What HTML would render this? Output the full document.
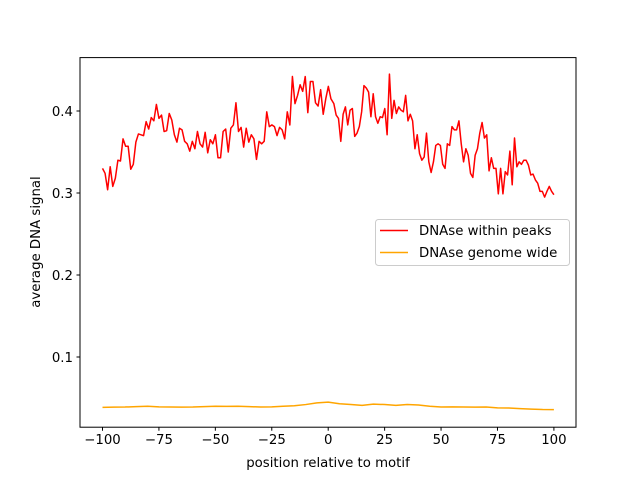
<!DOCTYPE html>
<html><head><meta charset="utf-8"><style>
body{margin:0;background:#fff;}
svg text{font-family:"DejaVu Sans","Liberation Sans",sans-serif;font-size:13.3px;fill:#000;}
</style></head><body>
<svg id="chart" width="640" height="480" xmlns="http://www.w3.org/2000/svg">
<rect x="0" y="0" width="640" height="480" fill="#fff"/>
<g id="marks"></g>
<rect x="80" y="57.6" width="496" height="369.6" fill="none" stroke="#000" stroke-width="1"/>
<g id="ticks"></g>
<text x="328" y="467" text-anchor="middle">position relative to motif</text>
<text transform="translate(40,242) rotate(-90)" text-anchor="middle">average DNA signal</text>
<g>
<rect x="375.5" y="219.5" width="194" height="46" rx="3" fill="#fff" fill-opacity="0.8" stroke="#ccc"/>
<line x1="380" y1="230.5" x2="408" y2="230.5" stroke="#ff0000" stroke-width="1.5"/>
<text x="419" y="235">DNAse within peaks</text>
<line x1="380" y1="252.5" x2="408" y2="252.5" stroke="#ffa500" stroke-width="1.5"/>
<text x="419" y="257">DNAse genome wide</text>
</g>
</svg>
<script>
const peaksLeft=[.330,.324,.304,.332,.308,.318,.340,.339,.366,.357,.357,.329,.335,.362,.372,.371,.370,.387,.378,.392,.388,.408,.391,.395,.375,.376,.397,.389,.371,.362,.379,.377,.363,.360,.351,.363,.354,.375,.360,.356,.374,.349,.365,.360,.371,.343,.343,.375,.378,.350,.379,.383,.410,.375,.380,.356,.379,.362,.371,.366,.341,.363,.360,.363,.399,.381,.383,.381,.370,.380,.377,.366,.399,.383,.442,.409,.419,.432,.424,.442,.398,.436,.436,.410,.406,.426,.396,.415,.430,.415];
const peaksRight=[.409,.395,.391,.363,.396,.405,.383,.401,.403,.369,.373,.381,.399,.431,.428,.423,.393,.421,.393,.385,.393,.392,.403,.371,.445,.391,.413,.397,.405,.401,.399,.419,.388,.396,.388,.354,.371,.348,.340,.344,.373,.338,.325,.338,.358,.360,.358,.335,.330,.360,.358,.381,.377,.377,.388,.360,.338,.354,.346,.324,.319,.346,.354,.373,.386,.367,.371,.327,.343,.330,.330,.299,.330,.299,.326,.322,.351,.310,.367,.332,.338,.335,.340,.340,.334,.322,.323,.316,.312,.302,.302,.295,.302,.308,.302,.298];
const leftRange=[-100,1.2];
const rightRange=[2.5,100];
const genome=[.0385,.0388,.039,.0395,.040,.0392,.039,.0388,.039,.0395,.040,.0398,.040,.0395,.039,.0392,.040,.0405,.042,.044,.045,.043,.042,.041,.0425,.042,.041,.042,.0415,.040,.039,.0392,.039,.0388,.039,.038,.0378,.037,.0365,.036,.0358];
const xTicks=[-100,-75,-50,-25,0,25,50,75,100];
const yTicks=[0.1,0.2,0.3,0.4];
const xs=v=>102.5+(v+100)*2.257;
const ys=v=>357-(v-0.1)*820;
const NS='http://www.w3.org/2000/svg';
const marks=document.getElementById('marks'),ticks=document.getElementById('ticks');
function spread(arr,r){return arr.map((v,i)=>[r[0]+(r[1]-r[0])*i/(arr.length-1),v]);}
function line(pts,color,name){
  const d=pts.map((p,i)=>(i?'L':'M')+xs(p[0]).toFixed(2)+','+ys(p[1]).toFixed(2)).join('');
  const p=document.createElementNS(NS,'path');
  p.setAttribute('d',d);p.setAttribute('fill','none');p.setAttribute('stroke',color);p.setAttribute('stroke-width','1.5');p.setAttribute('stroke-linejoin','round');
  
  
  marks.appendChild(p);
}
line(spread(peaksLeft,leftRange).concat(spread(peaksRight,rightRange)),'#ff0000','peaks-line');
line(spread(genome,[-100,100]),'#ffa500','genome-line');
xTicks.forEach(t=>{
  const x=xs(t);
  const l=document.createElementNS(NS,'line');
  l.setAttribute('x1',x);l.setAttribute('x2',x);l.setAttribute('y1',427.2);l.setAttribute('y2',430.7);l.setAttribute('stroke','#000');
  
  
  ticks.appendChild(l);
  const tx=document.createElementNS(NS,'text');
  tx.setAttribute('x',x);tx.setAttribute('y',444);tx.setAttribute('text-anchor','middle');
  tx.textContent=t<0?'\u2212'+(-t):String(t);
  
  
  ticks.appendChild(tx);
});
yTicks.forEach(t=>{
  const y=ys(t);
  const l=document.createElementNS(NS,'line');
  l.setAttribute('x1',76.5);l.setAttribute('x2',80);l.setAttribute('y1',y);l.setAttribute('y2',y);l.setAttribute('stroke','#000');
  
  
  ticks.appendChild(l);
  const tx=document.createElementNS(NS,'text');
  tx.setAttribute('x',73);tx.setAttribute('y',y+5);tx.setAttribute('text-anchor','end');
  tx.textContent=t.toFixed(1);
  
  
  ticks.appendChild(tx);
});
</script>
</body></html>
